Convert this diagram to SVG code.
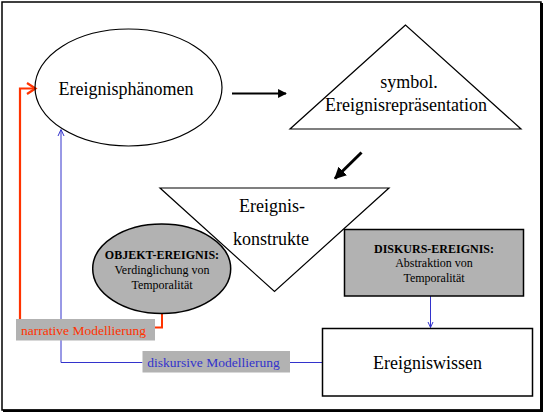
<svg xmlns="http://www.w3.org/2000/svg" width="544" height="412" viewBox="0 0 544 412">
<defs>
<style>
.t{font-family:"Liberation Serif","Times New Roman",serif;fill:#000;text-anchor:middle}
.big{font-size:18px}
.sm{font-size:12px}
.b{font-weight:bold}
.ln{fill:none;stroke:#000;stroke-width:1.2}
.gray{fill:#b2b2b2;stroke:#000;stroke-width:1.5}
</style>
<marker id="ah" viewBox="0 0 10 10" refX="9" refY="5" markerWidth="4" markerHeight="4" orient="auto" markerUnits="strokeWidth"><path d="M0,0 L10,5 L0,10 z" fill="#000"/></marker>
</defs>
<rect x="0" y="0" width="544" height="412" fill="#fff"/>
<g id="frame">
<rect x="2" y="2" width="539" height="408" fill="none" stroke="#000" stroke-width="1.5"/>
<path d="M541.5,3 V411 H3" fill="none" stroke="#000" stroke-width="3"/>
</g>
<g id="connectors">
<line x1="232" y1="93.5" x2="286" y2="93.5" stroke="#000" stroke-width="2.2" marker-end="url(#ah)"/>
<line x1="361.5" y1="152.5" x2="335" y2="178.5" stroke="#000" stroke-width="3" marker-end="url(#ah)"/>
<path d="M162,313 V327.5 H155" fill="none" stroke="#ff3300" stroke-width="2"/>
<path d="M20,319 V88.5 H35" fill="none" stroke="#ff3300" stroke-width="2.2"/>
<path d="M27,83 L35.5,88.5 L27,94" fill="none" stroke="#ff3300" stroke-width="2.2"/>
<path d="M142.5,362.5 H61 V130" fill="none" stroke="#3333cc" stroke-width="1"/>
<path d="M58,136 L61,129.5 L64,136" fill="none" stroke="#3333cc" stroke-width="1"/>
<path d="M290,362.5 H322.5" fill="none" stroke="#3333cc" stroke-width="1"/>
<path d="M430.5,296 V327.5" fill="none" stroke="#3333cc" stroke-width="1"/>
<path d="M428,322 L430.5,327.5 L433,322" fill="none" stroke="#3333cc" stroke-width="1"/>
</g>
<g id="phaenomen">
<ellipse cx="128.5" cy="87.5" rx="93.5" ry="58.5" class="ln"/>
<text x="126" y="95" class="t big">Ereignisphänomen</text>
</g>
<g id="repraesentation">
<polygon points="405.5,25 290,129 521,129" class="ln"/>
<text x="409" y="88" class="t big">symbol.</text>
<text x="406" y="111" class="t big">Ereignisrepräsentation</text>
</g>
<g id="konstrukte">
<polygon points="160,188 389,188 274.5,291.5" class="ln"/>
<text x="272" y="212" class="t big">Ereignis-</text>
<text x="271" y="245" class="t big">konstrukte</text>
</g>
<g id="objekt">
<ellipse cx="161.7" cy="268.7" rx="69" ry="44.7" class="gray"/>
<text x="162" y="258.5" class="t sm b">OBJEKT-EREIGNIS:</text>
<text x="162" y="273.5" class="t sm">Verdinglichung von</text>
<text x="162" y="288.5" class="t sm">Temporalität</text>
</g>
<g id="diskurs">
<rect x="344.5" y="229.5" width="179" height="66.5" class="gray"/>
<text x="434" y="252.5" class="t sm b">DISKURS-EREIGNIS:</text>
<text x="434" y="267" class="t sm">Abstraktion von</text>
<text x="434" y="282" class="t sm">Temporalität</text>
</g>
<g id="narrativ">
<rect x="16" y="319" width="139" height="21.5" fill="#b2b2b2"/>
<text x="83.5" y="334.5" class="t" style="font-size:13.5px;fill:#ff3300">narrative Modellierung</text>
</g>
<g id="diskursiv">
<rect x="142.5" y="351" width="147.5" height="21.5" fill="#b2b2b2"/>
<text x="213.5" y="367" class="t" style="font-size:13.5px;fill:#3333cc">diskursive Modellierung</text>
</g>
<g id="wissen">
<rect x="322.5" y="328.5" width="210" height="67.5" fill="#fff" stroke="#000" stroke-width="1.5"/>
<text x="427.5" y="368.5" class="t big">Ereigniswissen</text>
</g>
</svg>
